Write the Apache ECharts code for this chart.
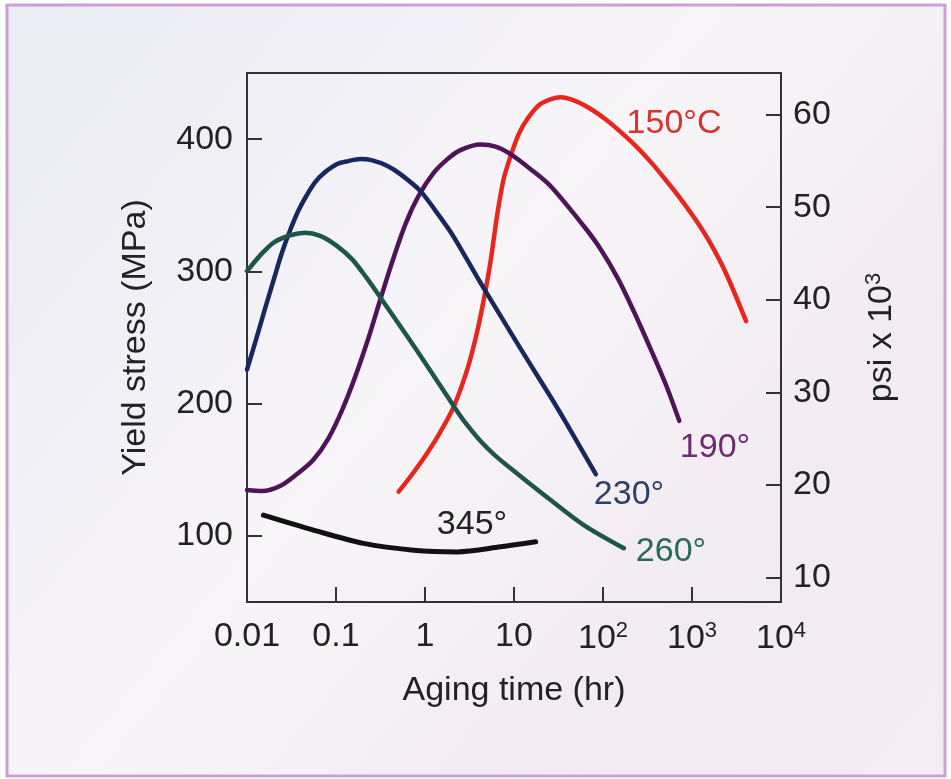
<!DOCTYPE html>
<html><head><meta charset="utf-8">
<script src="https://cdn.jsdelivr.net/npm/echarts@6/dist/echarts.min.js"></script>
<style>html,body{margin:0;padding:0;background:#fff}#c{width:951px;height:779px}</style>
</head><body><div id="c"></div>
<script>
// ---- data (aging time in hr, yield stress in MPa) ----
const xTickLabels = ['0.01', '0.1', '1', '10', '10{sup|2}', '10{sup|3}', '10{sup|4}'];
const mpaTicks = [100, 200, 300, 400];
const ksiTicks = [10, 20, 30, 40, 50, 60];

const t150 = [0.5056, 0.7213, 1.056, 1.49, 2.105, 2.98, 3.79, 4.58, 5.45, 6.49, 7.64, 9.16, 11.3, 14.1, 19.9, 33.5, 49.4, 72.9, 107.5, 158.7, 234.1, 345.4, 509.6, 751.8, 1109, 1637, 2415, 4055];
const s150 = [133.4, 146.8, 162.5, 178.7, 197.8, 225.7, 252.2, 278.7, 307.5, 343.2, 369.7, 387.2, 403.8, 415.2, 426.6, 431.7, 428.8, 422.8, 414.8, 405.3, 394.7, 382.6, 368.9, 354.5, 338.6, 320.4, 298.4, 262.3];

const t190 = [0.01, 0.01475, 0.02353, 0.03657, 0.05537, 0.08168, 0.1174, 0.1645, 0.2305, 0.3146, 0.4296, 0.6016, 0.8426, 1.2434, 1.788, 2.503, 4.207, 6.206, 9.156, 15.38, 25.84, 60.77, 94.47, 146.8, 222.3, 345.4, 509.6, 719.5];
const s190 = [134.7, 133.9, 137.7, 146.8, 157.4, 173.4, 195.3, 220.4, 249.2, 278.7, 307.5, 335.6, 356.8, 374.3, 384.9, 391.7, 395.9, 394.4, 388.7, 377.3, 364.4, 334.3, 316.6, 294.7, 269.7, 240.9, 214.3, 187.0];

const t230 = [0.01, 0.01263, 0.01595, 0.02014, 0.02479, 0.0305, 0.03752, 0.04617, 0.05833, 0.07556, 0.1031, 0.1372, 0.1873, 0.2557, 0.3743, 0.5284, 0.8868, 1.3093, 1.932, 2.851, 4.207, 7.065, 10.98, 17.51, 25.84, 38.11, 56.23, 82.96];
const s230 = [225.7, 248.4, 271.9, 294.6, 314.4, 331.1, 345.5, 356.8, 367.5, 375.1, 381.2, 383.4, 384.9, 383.9, 379.8, 373.5, 360.8, 345.9, 329.9, 311.0, 291.4, 266.4, 245.2, 223.2, 205.0, 186.0, 166.3, 146.6];

const t260 = [0.01, 0.01475, 0.02014, 0.0305, 0.045, 0.0664, 0.1005, 0.152, 0.219, 0.315, 0.601, 1.15, 2.09, 2.851, 4.2, 6.206, 10.99, 25.8, 60.8, 171.5];
const s260 = [300.2, 313.6, 322.0, 327.3, 329.3, 326.9, 319.7, 309.1, 295.4, 280.3, 253.0, 224.9, 198.4, 185.4, 171.8, 160.5, 146.8, 127.1, 108.2, 90.7];

const t345 = [0.0153, 0.0558, 0.204, 0.746, 2.3, 7.06, 17.5];
const s345 = [115.7, 104.4, 94.3, 89.2, 87.9, 91.7, 95.5];

const seriesNames = ['150°C', '190°', '230°', '260°', '345°'];

const zip = (a, b) => a.map((v, i) => [v, b[i]]);
const FONT = '"Liberation Sans", Arial, Helvetica, sans-serif';
const TXT = '#222';

const chart = echarts.init(document.getElementById('c'), null, {renderer: 'canvas'});

function mkLine(name, t, s, color, w) {
  return {
    name, type: 'line', data: zip(t, s), smooth: 0.3, showSymbol: false, symbol: 'none',
    lineStyle: {color, width: w, cap: 'round', join: 'round'}, xAxisIndex: 0, yAxisIndex: 0, silent: true, z: 3
  };
}

function lbl(text, x, y, color) {
  return {type: 'text', x, y, z: 5,
    style: {text, fill: color, font: '34px ' + FONT, align: 'center', verticalAlign: 'middle'}};
}

const option = {
  backgroundColor: '#ffffff',
  animation: false,
  textStyle: {fontFamily: FONT},
  grid: {left: 247, right: 170, top: 73, bottom: 177, show: true, borderColor: '#333', borderWidth: 2, backgroundColor: 'transparent'},
  xAxis: {
    type: 'log', logBase: 10, min: 0.01, max: 10000, splitNumber: 6,
    name: 'Aging time (hr)', nameLocation: 'middle', nameGap: 72,
    nameTextStyle: {fontSize: 34, color: TXT, fontFamily: FONT},
    axisLine: {show: true, lineStyle: {color: '#333', width: 2}},
    axisTick: {show: true, inside: true, length: 15, lineStyle: {color: '#333', width: 2}},
    splitLine: {show: false}, minorTick: {show: false},
    axisLabel: {
      margin: 18, fontSize: 34, color: TXT, fontFamily: FONT,
      formatter: v => xTickLabels[Math.round(Math.log10(v)) + 2],
      rich: {sup: {fontSize: 22, color: TXT, fontFamily: FONT, padding: [0, 0, 16, 0]}}
    }
  },
  yAxis: [{
    type: 'value', min: 50, max: 450, position: 'left',
    name: 'Yield stress (MPa)', nameLocation: 'middle', nameGap: 94, nameRotate: 90,
    nameTextStyle: {fontSize: 34, color: TXT, fontFamily: FONT},
    axisLine: {show: true, lineStyle: {color: '#333', width: 2}},
    axisTick: {show: true, inside: true, length: 15, customValues: mpaTicks, lineStyle: {color: '#333', width: 2}},
    axisLabel: {margin: 14, fontSize: 34, color: TXT, fontFamily: FONT, customValues: mpaTicks},
    splitLine: {show: false}
  }, {
    type: 'value', min: 7.36, max: 64.5, position: 'right',
    name: 'psi x 10{sup|3}', nameLocation: 'middle', nameGap: 82, nameRotate: 90,
    nameTextStyle: {fontSize: 34, color: TXT, fontFamily: FONT,
      rich: {sup: {fontSize: 22, color: TXT, fontFamily: FONT, padding: [0, 0, 16, 0]}}},
    axisLine: {show: true, lineStyle: {color: '#333', width: 2}},
    axisTick: {show: true, inside: true, length: 15, customValues: ksiTicks, lineStyle: {color: '#333', width: 2}},
    axisLabel: {margin: 12, fontSize: 34, color: TXT, fontFamily: FONT, customValues: ksiTicks},
    splitLine: {show: false}
  }],
  graphic: [
    {type: 'rect', z: -10, shape: {x: 7, y: 5, width: 938, height: 771},
      style: {
        fill: new echarts.graphic.LinearGradient(0, 0, 1, 1, [
          {offset: 0, color: '#eaeaf4'}, {offset: 0.45, color: '#f7f5f8'},
          {offset: 0.75, color: '#f2ebf2'}, {offset: 1, color: '#f4edf3'}]),
        stroke: '#cc9fd6', lineWidth: 3}},
    lbl('150°C', 674, 124, '#d7322b'),
    lbl('190°', 715, 448, '#6b2c70'),
    lbl('230°', 629, 495, '#2f3f66'),
    lbl('260°', 671, 552, '#2a6a58'),
    lbl('345°', 472, 525, '#222222')
  ],
  series: [
    mkLine(seriesNames[0], t150, s150, '#e8261d', 4.5),
    mkLine(seriesNames[1], t190, s190, '#4e1457', 4.5),
    mkLine(seriesNames[2], t230, s230, '#18285e', 4.5),
    mkLine(seriesNames[3], t260, s260, '#1d5548', 4.5),
    mkLine(seriesNames[4], t345, s345, '#111111', 5)
  ]
};
chart.setOption(option);
</script></body></html>
